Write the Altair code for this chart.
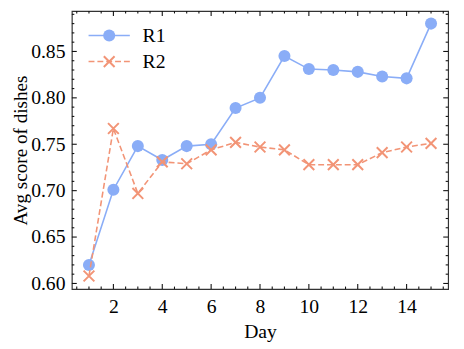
import altair as alt
import pandas as pd

# ---------------- data ----------------
days = list(range(1, 16))
r1_scores = [0.620, 0.701, 0.748, 0.733, 0.748, 0.750, 0.789, 0.800,
             0.845, 0.831, 0.830, 0.828, 0.823, 0.821, 0.880]
r2_scores = [0.608, 0.767, 0.697, 0.731, 0.729, 0.744, 0.752, 0.747,
             0.744, 0.728, 0.728, 0.728, 0.741, 0.747, 0.751]
series_names = ["R1", "R2"]
series_colors = ["#8AADF7", "#F29476"]

x_major = [2, 4, 6, 8, 10, 12, 14]
y_major = [0.60, 0.65, 0.70, 0.75, 0.80, 0.85]
x_domain = [0.3, 15.7]
y_domain = [0.594, 0.8936]

x_minor = [v / 2 for v in range(1, 32) if (v / 2) not in x_major]
y_minor = [round(v / 100, 2) for v in range(60, 90) if round(v / 100, 2) not in y_major]

# ---------------- layout ----------------
W, H = 383, 283
FONT = "Liberation Serif"
FS = 20
MAJ, MIN = 5, 2.5
TICK_COLOR = "#111111"

df1 = pd.DataFrame({"day": days, "score": r1_scores})
df2 = pd.DataFrame({"day": days, "score": r2_scores})

xs = alt.Scale(domain=x_domain, nice=False, zero=False)
ys = alt.Scale(domain=y_domain, nice=False, zero=False)

x_axis = alt.Axis(values=x_major, format="d", title="Day", grid=False,
                  ticks=False, tickSize=0, domain=False, labelPadding=8,
                  titlePadding=5)
y_axis = alt.Axis(values=y_major, format=".2f", title="Avg score of dishes",
                  grid=False, ticks=False, tickSize=0, domain=False,
                  labelPadding=7, titlePadding=0, titleFontSize=19.5)

X = alt.X("day:Q", scale=xs, axis=x_axis)
Y = alt.Y("score:Q", scale=ys, axis=y_axis)

X_SHAPE = "M-1,-1L1,1M-1,1L1,-1"

line1 = alt.Chart(df1).mark_line(color=series_colors[0], strokeWidth=1.6).encode(x=X, y=Y)
pts1 = alt.Chart(df1).mark_point(shape="circle", filled=True, size=150, opacity=1,
                                 color=series_colors[0]).encode(x=X, y=Y)
line2 = alt.Chart(df2).mark_line(color=series_colors[1], strokeWidth=1.6,
                                 strokeDash=[6, 3]).encode(x=X, y=Y)
pts2 = alt.Chart(df2).mark_point(shape=X_SHAPE, filled=False, size=120, opacity=1,
                                 strokeWidth=2, color=series_colors[1]).encode(x=X, y=Y)

# ---------------- inward ticks on all four sides ----------------
xt_major = pd.DataFrame({"day": x_major})
xt_minor = pd.DataFrame({"day": x_minor})
yt_major = pd.DataFrame({"score": y_major})
yt_minor = pd.DataFrame({"score": y_minor})

tick_layers = []
for d, ln in [(xt_major, MAJ), (xt_minor, MIN)]:
    tick_layers.append(alt.Chart(d).mark_rule(color=TICK_COLOR, strokeWidth=1.1).encode(
        x=X, y=alt.value(H), y2=alt.value(H - ln)))
    tick_layers.append(alt.Chart(d).mark_rule(color=TICK_COLOR, strokeWidth=1.1).encode(
        x=X, y=alt.value(0), y2=alt.value(ln)))
for d, ln in [(yt_major, MAJ), (yt_minor, MIN)]:
    tick_layers.append(alt.Chart(d).mark_rule(color=TICK_COLOR, strokeWidth=1.1).encode(
        y=Y, x=alt.value(0), x2=alt.value(ln)))
    tick_layers.append(alt.Chart(d).mark_rule(color=TICK_COLOR, strokeWidth=1.1).encode(
        y=Y, x=alt.value(W), x2=alt.value(W - ln)))

# ---------------- legend ----------------
leg_df = pd.DataFrame({"name": series_names})
legend_layers = []
leg_rows = [25, 51.5]
for i, name in enumerate(series_names):
    yy = leg_rows[i]
    one = leg_df[leg_df["name"] == name]
    rule_kw = dict(color=series_colors[i], strokeWidth=1.6)
    if i == 1:
        rule_kw["strokeDash"] = [6, 3]
    legend_layers.append(alt.Chart(one).mark_rule(**rule_kw).encode(
        x=alt.value(17), x2=alt.value(59), y=alt.value(yy)))
    if i == 0:
        pm = alt.Chart(one).mark_point(shape="circle", filled=True, size=150, opacity=1,
                                       color=series_colors[i])
    else:
        pm = alt.Chart(one).mark_point(shape=X_SHAPE, filled=False, size=120, opacity=1,
                                       strokeWidth=2, color=series_colors[i])
    legend_layers.append(pm.encode(x=alt.value(38), y=alt.value(yy)))
    legend_layers.append(alt.Chart(one).mark_text(
        align="left", baseline="middle", font=FONT, fontSize=FS, color="black").encode(
        x=alt.value(72), y=alt.value(yy + 1), text="name:N"))

chart = alt.layer(line1, pts1, line2, pts2, *tick_layers, *legend_layers).properties(
    width=W, height=H,
    autosize=alt.AutoSizeParams(type="none"),
    padding={"left": 65, "top": 0, "right": 8, "bottom": 58},
).configure_view(
    stroke="#333333", strokeWidth=1.2
).configure_axis(
    labelFont=FONT, titleFont=FONT, labelFontSize=FS, titleFontSize=FS,
    labelColor="black", titleColor="black", titleFontWeight="normal"
)

chart.save("out.html", embed_options={"renderer": "svg", "actions": False})
